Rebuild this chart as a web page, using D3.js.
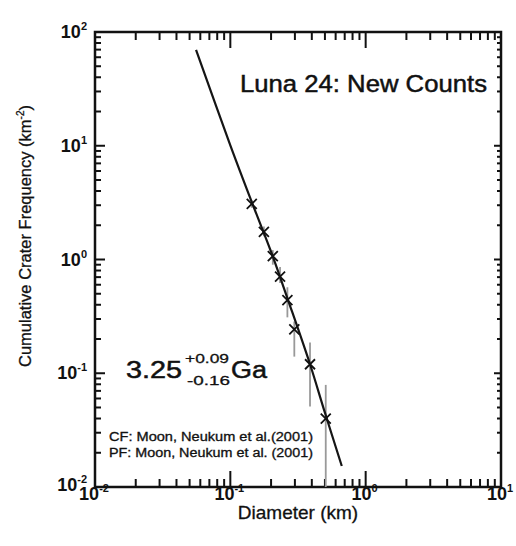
<!DOCTYPE html>
<html><head><meta charset="utf-8">
<script src="https://cdn.jsdelivr.net/npm/d3@7"></script>
<style>
html,body{margin:0;padding:0;background:#fff;}
text{font-family:"Liberation Sans",Arial,Helvetica,sans-serif;fill:#111;}
</style></head>
<body>
<svg id="chart" width="516" height="546"></svg>
<script>
// ---- data ----
const diam   = [0.144, 0.177, 0.206, 0.233, 0.264, 0.297, 0.388, 0.507];   // km
const freq   = [3.08, 1.75, 1.07, 0.706, 0.44, 0.243, 0.120, 0.040];      // km^-2
const errLo  = [2.85, 1.60, 0.90, 0.62, 0.31, 0.14, 0.051, 0.005];
const errHi  = [3.30, 1.95, 1.21, 0.86, 0.57, 0.285, 0.186, 0.079];
const fitD   = [0.0558, 0.1, 0.146, 0.2, 0.267, 0.388, 0.5, 0.666];
const fitN   = [69.5, 10.1, 3.07, 1.17, 0.44, 0.12, 0.045, 0.0153];
const xMajor = [0.01, 0.1, 1, 10];
const xMajorExp = ["-2", "-1", "0", "1"];
const yMajor = [0.01, 0.1, 1, 10, 100];
const yMajorExp = ["-2", "-1", "0", "1", "2"];
const titleText = "Luna 24: New Counts";
const ageBase = "3.25", agePlus = "+0.09", ageMinus = "-0.16", ageUnit = "Ga";
const noteCF = "CF: Moon, Neukum et al.(2001)";
const notePF = "PF: Moon, Neukum et al. (2001)";

const svg = d3.select("#chart");
const L = 95, R = 501, T = 32, B = 487;
const xs = d3.scaleLog().domain([0.01, 10]).range([L, R]);
const ys = d3.scaleLog().domain([0.01, 100]).range([B, T]);

const xMinor = [], yMinor = [];
xMajor.slice(0, -1).forEach(m => { for (let k = 2; k <= 9; k++) xMinor.push(m * k); });
yMajor.slice(0, -1).forEach(m => { for (let k = 2; k <= 9; k++) yMinor.push(m * k); });

// frame
svg.append("path").attr("d", `M${L},${T}H${R}V${B}H${L}Z`)
  .attr("fill", "none").attr("stroke", "#111").attr("stroke-width", 2.5);

// ticks, same pattern as the test page that rendered
const gx = svg.append("g");
gx.selectAll("line.xb").data(xMajor).join("line").attr("class", "xb")
  .attr("x1", d => xs(d)).attr("x2", d => xs(d)).attr("y1", B).attr("y2", B - 16)
  .attr("stroke", "#111").attr("stroke-width", 2);
gx.selectAll("line.xbm").data(xMinor).join("line").attr("class", "xbm")
  .attr("x1", d => xs(d)).attr("x2", d => xs(d)).attr("y1", B).attr("y2", B - 8)
  .attr("stroke", "#111").attr("stroke-width", 2);
gx.selectAll("line.xt").data(xMajor).join("line").attr("class", "xt")
  .attr("x1", d => xs(d)).attr("x2", d => xs(d)).attr("y1", T).attr("y2", T + 16)
  .attr("stroke", "#111").attr("stroke-width", 2);
gx.selectAll("line.xtm").data(xMinor).join("line").attr("class", "xtm")
  .attr("x1", d => xs(d)).attr("x2", d => xs(d)).attr("y1", T).attr("y2", T + 8)
  .attr("stroke", "#111").attr("stroke-width", 2);
gx.selectAll("line.yl").data(yMajor).join("line").attr("class", "yl")
  .attr("y1", d => ys(d)).attr("y2", d => ys(d)).attr("x1", L).attr("x2", L + 10)
  .attr("stroke", "#111").attr("stroke-width", 2);
gx.selectAll("line.ylm").data(yMinor).join("line").attr("class", "ylm")
  .attr("y1", d => ys(d)).attr("y2", d => ys(d)).attr("x1", L).attr("x2", L + 6)
  .attr("stroke", "#111").attr("stroke-width", 2);
gx.selectAll("line.yr").data(yMajor).join("line").attr("class", "yr")
  .attr("y1", d => ys(d)).attr("y2", d => ys(d)).attr("x1", R).attr("x2", R - 7)
  .attr("stroke", "#111").attr("stroke-width", 2);
gx.selectAll("line.yrm").data(yMinor).join("line").attr("class", "yrm")
  .attr("y1", d => ys(d)).attr("y2", d => ys(d)).attr("x1", R).attr("x2", R - 4)
  .attr("stroke", "#111").attr("stroke-width", 2);

// error bars (clipped to the frame by clamping the values)
const yMin = 0.01, yMax = 100;
svg.append("g").selectAll("line.err").data(diam).join("line").attr("class", "err")
  .attr("x1", d => xs(d)).attr("x2", d => xs(d))
  .attr("y1", (d, i) => ys(Math.min(yMax, errHi[i])))
  .attr("y2", (d, i) => ys(Math.max(yMin, errLo[i])))
  .attr("stroke", "#999").attr("stroke-width", 1.8);

// fit curve
const fitPts = fitD.map((d, i) => [xs(d), ys(fitN[i])]);
svg.append("path").datum(fitPts)
  .attr("d", d3.line().curve(d3.curveCatmullRom.alpha(0.5)))
  .attr("fill", "none").attr("stroke", "#151515").attr("stroke-width", 2.2);

// markers (x crosses)
const s = 5;
svg.append("g").selectAll("path.mk").data(diam).join("path").attr("class", "mk")
  .attr("d", (d, i) => {
    const cx = xs(d), cy = ys(freq[i]);
    return `M${cx - s},${cy - s}L${cx + s},${cy + s}M${cx - s},${cy + s}L${cx + s},${cy - s}`;
  })
  .attr("stroke", "#111").attr("stroke-width", 1.8).attr("fill", "none");

// tick labels
xMajor.forEach((v, i) => {
  const t = svg.append("text").attr("x", xs(v) - 1).attr("y", 500)
    .attr("text-anchor", "middle").attr("font-size", 18).attr("font-weight", "bold");
  t.append("tspan").text("10");
  t.append("tspan").attr("font-size", 11).attr("dy", -8).text(xMajorExp[i]);
});
yMajor.forEach((v, i) => {
  const t = svg.append("text").attr("x", 87).attr("y", ys(v) + (i === 0 ? 4 : 6))
    .attr("text-anchor", "end").attr("font-size", 18).attr("font-weight", "bold");
  t.append("tspan").text("10");
  t.append("tspan").attr("font-size", 11).attr("dy", -8).text(yMajorExp[i]);
});

// axis titles
svg.append("text").attr("x", (L + R) / 2).attr("y", 519).attr("text-anchor", "middle")
  .attr("font-size", 19).attr("stroke", "#111").attr("stroke-width", 0.3).text("Diameter (km)");
const yl = svg.append("text").attr("transform", "translate(31,236) rotate(-90)")
  .attr("text-anchor", "middle").attr("font-size", 16.5).attr("stroke", "#111").attr("stroke-width", 0.3);
yl.append("tspan").text("Cumulative Crater Frequency (km");
yl.append("tspan").attr("font-size", 10).attr("dy", -7).text("-2");
yl.append("tspan").attr("dy", 7).text(")");

// annotations
function note(txt, x0, y0, size, len, sw){
  svg.append("text").attr("x", x0).attr("y", y0).attr("font-size", size)
    .attr("textLength", len).attr("lengthAdjust", "spacingAndGlyphs")
    .attr("stroke", "#111").attr("stroke-width", sw).text(txt);
}
note(titleText, 240, 92, 24.5, 247, 0.5);
note(ageBase, 126, 378, 23, 56, 0.5);
note(agePlus, 185, 363, 13.5, 44, 0.3);
note(ageMinus, 187, 385, 13.5, 43, 0.3);
note(ageUnit, 231, 378, 23, 36, 0.5);
note(noteCF, 109, 441, 12, 204, 0.3);
note(notePF, 109, 457, 12, 204, 0.3);
</script>
</body></html>
